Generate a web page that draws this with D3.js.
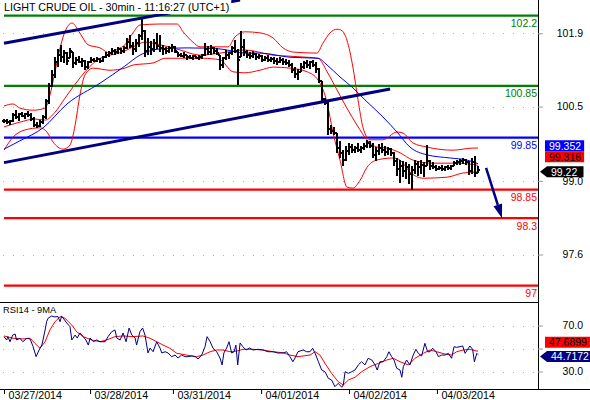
<!DOCTYPE html>
<html>
<head>
<meta charset="utf-8">
<script src="https://cdn.jsdelivr.net/npm/d3@7"></script>
<style>
  body { margin: 0; background: #fff; }
  svg { display: block; }
  text { font-family: "Liberation Sans", Arial, sans-serif; }
</style>
</head>
<body>
<svg id="chart" width="590" height="400"></svg>
<script>
// ---- price bars (30 min) ----
const barHigh = [
  100.22,100.21,100.20,100.33,100.38,100.32,100.35,100.33,100.36,100.33,
  100.24,100.15,100.20,100.28,100.60,100.90,101.15,101.40,101.55,101.64,
  101.54,101.50,101.58,101.50,101.40,101.42,101.38,101.35,101.33,101.40,
  101.38,101.40,101.38,101.42,101.50,101.52,101.58,101.56,101.60,101.58,
  101.62,101.78,101.83,101.70,101.75,101.85,102.14,101.92,101.77,101.72,
  101.75,101.87,101.82,101.64,101.60,101.62,101.65,101.62,101.50,101.48,
  101.50,101.45,101.44,101.45,101.43,101.45,101.46,101.68,101.62,101.64,
  101.60,101.58,101.45,101.40,101.54,101.50,101.62,101.73,101.55,101.90,
  101.75,101.54,101.50,101.52,101.48,101.46,101.44,101.42,101.44,101.40,
  101.40,101.38,101.40,101.38,101.36,101.35,101.28,101.22,101.18,101.28,
  101.33,101.35,101.32,101.35,101.30,101.20,100.95,100.62,100.55,100.10,
  100.05,99.95,99.78,99.62,99.70,99.75,99.72,99.70,99.74,99.70,
  99.75,99.80,99.78,99.74,99.68,99.72,99.75,99.70,99.68,99.66,
  99.58,99.45,99.42,99.40,99.38,99.35,99.30,99.42,99.40,99.42,
  99.38,99.71,99.42,99.38,99.32,99.30,99.32,99.30,99.32,99.33,
  99.40,99.42,99.44,99.45,99.44,99.40,99.45,99.50,99.30
];
const barLow = [
  100.13,100.12,100.10,100.15,100.22,100.18,100.24,100.22,100.25,100.18,
  100.06,100.04,100.05,100.12,100.22,100.50,100.82,101.00,101.22,101.30,
  101.28,101.25,101.38,101.20,101.25,101.28,101.22,101.15,101.18,101.28,
  101.30,101.30,101.29,101.30,101.38,101.40,101.45,101.44,101.46,101.47,
  101.48,101.55,101.58,101.45,101.50,101.60,101.73,101.40,101.45,101.45,
  101.50,101.55,101.50,101.45,101.47,101.48,101.50,101.48,101.40,101.40,
  101.38,101.35,101.36,101.35,101.36,101.35,101.37,101.42,101.45,101.45,
  101.46,101.44,101.15,101.20,101.35,101.36,101.44,101.48,100.87,101.40,
  101.42,101.38,101.36,101.38,101.35,101.36,101.30,101.32,101.30,101.30,
  101.27,101.26,101.28,101.25,101.26,101.22,101.10,101.00,100.96,101.12,
  101.18,101.20,101.18,101.22,101.10,100.90,100.55,100.48,99.90,99.92,
  99.90,99.55,99.45,99.30,99.40,99.52,99.56,99.55,99.58,99.56,
  99.62,99.66,99.65,99.45,99.40,99.52,99.55,99.50,99.52,99.50,
  99.30,99.12,98.98,99.10,99.05,98.95,98.85,99.15,99.12,99.15,
  99.10,99.30,99.22,99.24,99.20,99.22,99.21,99.20,99.22,99.22,
  99.30,99.32,99.33,99.34,99.32,99.13,99.15,99.10,99.18
];
const barClose = [
  100.18,100.15,100.18,100.28,100.25,100.30,100.27,100.31,100.28,100.21,
  100.10,100.08,100.16,100.25,100.55,100.85,101.05,101.30,101.45,101.40,
  101.48,101.32,101.52,101.28,101.35,101.30,101.33,101.22,101.30,101.35,
  101.33,101.36,101.32,101.40,101.45,101.48,101.52,101.50,101.55,101.52,
  101.58,101.70,101.62,101.55,101.68,101.80,101.90,101.52,101.60,101.55,
  101.68,101.62,101.58,101.55,101.52,101.58,101.60,101.52,101.45,101.42,
  101.44,101.40,101.38,101.42,101.39,101.41,101.44,101.55,101.50,101.58,
  101.52,101.48,101.25,101.38,101.45,101.48,101.58,101.52,101.35,101.60,
  101.50,101.45,101.42,101.46,101.40,101.42,101.35,101.38,101.34,101.36,
  101.32,101.30,101.35,101.30,101.28,101.25,101.15,101.08,101.12,101.22,
  101.28,101.25,101.30,101.26,101.18,100.95,100.60,100.52,100.02,99.98,
  99.95,99.65,99.55,99.42,99.60,99.68,99.62,99.65,99.62,99.66,
  99.70,99.74,99.70,99.52,99.60,99.65,99.62,99.58,99.64,99.55,
  99.40,99.25,99.30,99.20,99.28,99.15,99.22,99.35,99.28,99.32,
  99.30,99.40,99.30,99.28,99.25,99.27,99.24,99.28,99.26,99.30,
  99.36,99.38,99.40,99.42,99.38,99.20,99.38,99.18,99.22
];

// ---- indicators: [bar index, value] ----
const upperBand = [[0,100.46],[3,100.50],[5.3,100.42],[9.7,100.38],[13.7,100.42],[15.3,100.67],[17,101.12],[18.7,101.58],[20.3,101.89],[22.7,102.06],[24.7,101.92],[26.3,101.77],[28,101.64],[32,101.58],[35.3,101.48],[38,101.56],[40.3,101.64],[43,101.87],[45.3,102.02],[52,102.04],[57.7,102.04],[59.7,101.89],[63,101.69],[65.3,101.60],[74.7,101.60],[77,101.79],[80.3,101.89],[85.3,101.87],[89.7,101.77],[93,101.58],[96.3,101.50],[104.3,101.48],[106.3,101.67],[108.7,101.87],[111,101.94],[112.7,101.91],[114.3,101.73],[116.3,101.21],[118,100.58],[119.7,100.04],[122,99.81],[126.3,99.81],[131,99.96],[133,99.94],[136.3,99.75],[141,99.67],[149.7,99.61],[156.3,99.65],[158,99.65]];
const middleBand = [[0,100.06],[5.3,100.15],[10.3,100.21],[13.7,100.19],[17,100.34],[20.3,100.61],[23.7,100.88],[27,101.12],[30.3,101.31],[33.7,101.42],[37,101.46],[40.3,101.52],[43.7,101.62],[47,101.69],[52,101.64],[58.7,101.54],[65.3,101.44],[72,101.48],[80.3,101.54],[89.7,101.44],[95.3,101.42],[101,101.40],[104.7,101.38],[107.7,101.12],[111,100.77],[114.3,100.42],[117.7,100.09],[121,99.81],[124.3,99.67],[127.7,99.65],[132,99.56],[136.3,99.42],[143,99.36],[151,99.36],[158,99.32]];
const lowerBand = [[0,99.61],[3,99.86],[7,100.00],[12,100.04],[14.3,99.96],[16.3,99.77],[19.7,99.63],[22,99.71],[23.7,100.09],[25.3,100.67],[27,101.06],[29.7,101.19],[35.3,101.15],[40.3,101.19],[43,101.25],[49.7,101.29],[53.7,101.38],[60.3,101.38],[66.3,101.38],[72,101.35],[76.3,101.12],[80.3,101.10],[85.3,101.15],[89.7,101.21],[95.3,101.19],[101,101.12],[104.7,100.96],[107.7,100.52],[109.7,99.94],[112,99.42],[114.3,98.90],[116.3,98.88],[118.7,99.03],[121,99.28],[124.3,99.42],[129.7,99.46],[132,99.42],[135.3,99.19],[139.7,99.07],[147.7,99.09],[153,99.17],[158,99.19]];
const slowMA = [[0,99.63],[5.3,99.79],[13,100.04],[21,100.50],[32,100.90],[40.3,101.23],[45.3,101.44],[52,101.56],[61,101.58],[72,101.56],[80.3,101.48],[85.3,101.48],[95.3,101.40],[104.7,101.38],[107.7,101.25],[112,101.02],[116.3,100.81],[120.3,100.58],[126.3,100.25],[131,99.96],[135.3,99.67],[141,99.52],[148.7,99.46],[154.3,99.42],[158,99.35]];

const upperTrend = [[0, 101.67], [78.7, 102.50]];
const lowerTrend = [[0, 99.37], [128.7, 100.79]];
const targetArrow = [[160.7, 99.27], [166, 98.30]];

const levelValues = [102.2, 100.85, 99.85, 98.85, 98.3, 97];
const levelLabels = ["102.2", "100.85", "99.85", "98.85", "98.3", "97"];
const priceTicks = [101.86, 100.45, 99.02, 97.6];
const priceTickLabels = ["101.9", "100.5", "99.0", "97.6"];
const lastClose = 99.22, lastSlowMA = 99.352, lastMiddle = 99.316;

// ---- RSI panel ----
const rsiValues = [[0,60.3],[0.9,57.4],[1.3,60.3],[2,55.9],[2.9,61.7],[3.7,62.6],[4.2,57.4],[5.3,58.9],[6.3,55.9],[7.6,58.9],[8.7,58.3],[9.7,51.6],[10.7,42.9],[11.7,48.7],[12.6,53.0],[13,57.4],[13.7,66.1],[14.2,73.3],[14.7,76.3],[15.9,78.3],[16.7,77.5],[18,77.7],[18.7,73.3],[19.2,78.3],[20.9,72.2],[22,69.0],[22.6,57.4],[23.7,61.7],[24.4,59.1],[25.3,63.5],[26.4,60.3],[27.3,57.4],[28.1,53.0],[28.7,59.1],[29.8,55.9],[30.9,57.4],[32,55.9],[33.7,55.9],[34.7,60.3],[35.9,64.6],[37,66.1],[37.6,59.1],[38.7,57.4],[39.7,63.5],[40.7,55.9],[41.7,67.8],[42.6,61.7],[43.7,59.1],[44.2,53.0],[45.3,64.6],[46.2,67.8],[47,61.7],[48,46.1],[48.7,50.4],[49.7,47.2],[50.9,55.9],[52,50.4],[52.6,46.1],[53.7,47.2],[54.7,46.1],[55.9,42.9],[57,44.3],[58,41.7],[59.2,44.3],[60.3,42.9],[61.3,42.9],[62.6,43.5],[63.7,42.9],[64.7,40.9],[65.9,44.3],[67,51.6],[67.7,60.3],[68.7,55.9],[69.7,50.2],[70.9,47.2],[72,41.7],[72.7,35.7],[73.3,46.1],[74.2,50.4],[75,55.9],[75.9,46.1],[76.7,47.2],[77.3,53.0],[77.9,35.7],[78.7,54.8],[79.6,51.6],[80.7,48.7],[81.8,50.4],[83,48.7],[84.7,49.3],[86.3,48.7],[88,47.2],[89.7,47.2],[91.3,46.1],[93,46.1],[94.2,47.2],[95.3,42.9],[96.3,38.5],[97,41.7],[98,47.2],[99.7,48.7],[100.9,47.2],[102,47.2],[102.9,50.2],[103.7,45.8],[104.8,38.5],[105.9,31.3],[107,29.8],[108.1,24.1],[109.2,22.6],[110.3,16.8],[111.4,19.7],[112.6,16.3],[113.1,18.3],[113.7,29.8],[114.8,28.4],[115.9,29.8],[117,31.3],[118.1,35.7],[119.2,38.5],[120.3,35.7],[121.4,41.5],[122.6,40.0],[123.7,35.7],[124.4,31.3],[125.3,38.5],[126.4,38.5],[127.6,42.9],[128.3,47.2],[129.2,42.9],[130,40.0],[130.9,32.8],[132,31.3],[132.6,25.0],[133.1,34.2],[134.2,40.0],[135.3,35.7],[136.4,44.3],[137.3,49.3],[138.1,45.8],[139.2,43.5],[140.3,54.5],[141.2,47.2],[142,47.2],[142.9,50.2],[144,47.2],[144.8,42.9],[145.9,44.3],[147,44.3],[148.1,45.8],[149.2,41.5],[150,51.6],[150.9,51.0],[152,51.6],[152.9,52.2],[153.7,45.8],[154.4,48.7],[155.3,52.2],[156.2,49.3],[156.8,38.5],[157.6,45.8],[158,44.7]];
const rsiMA = [[0,60.9],[3,58.9],[6.3,58.3],[8.7,58.9],[10.3,54.5],[12,50.2],[13.7,55.9],[15.3,66.1],[17,73.3],[18.7,77.7],[20.3,76.3],[22.6,70.4],[24.2,64.6],[26.4,60.3],[29.2,57.4],[32,55.9],[34.2,57.4],[37,60.3],[39.7,60.9],[43,60.3],[46.3,60.9],[48.7,58.9],[50.9,55.9],[53,53.0],[55.3,50.2],[57.6,45.8],[60.9,44.3],[64.2,42.9],[66.3,44.3],[68.7,47.2],[70.9,48.7],[73,48.7],[75.3,47.2],[77.6,47.8],[79.7,49.3],[83,49.3],[86.3,48.7],[89.7,47.2],[93,46.3],[95.3,44.3],[98,42.9],[102,44.3],[103.7,47.2],[105.3,44.3],[107,37.1],[109.2,28.4],[111.4,21.1],[113.1,18.3],[114.8,22.6],[117,25.0],[119.2,29.8],[122,34.2],[124.8,37.1],[127.6,40.0],[129.8,41.5],[132,38.5],[134.8,35.7],[137,41.5],[139.8,45.8],[142,48.7],[144.2,47.2],[147,45.2],[149.2,44.3],[150.9,47.2],[153.1,48.7],[155.3,49.3],[157,48.1],[158,47.7]];
const rsiTicks = [70, 50, 30];
const rsiTickLabels = ["70.0", "", "30.0"];
const lastRsi = 44.7172, lastRsiMA = 47.6899;

const dayStarts = [0, 28.7, 56.3, 85.7, 115, 144.3];
const dayLabels = ["03/27/2014", "03/28/2014", "03/31/2014", "04/01/2014", "04/02/2014", "04/03/2014"];

// ---- layout ----
const plotLeft = 3, plotRight = 538, rsiTop = 302, rsiBottom = 389;
const levelColors = ["#008000", "#008000", "#0000ff", "#ff0000", "#ff0000", "#ff0000"];
const fontSize = 10.5;

const x = d3.scaleLinear().domain([0, 158]).range([4, 478]);
const y = d3.scaleLinear().domain([97, 102.2]).range([285.7, 15.7]);
const yR = d3.scaleLinear().domain([30, 70]).range([371.5, 325.5]);

const svg = d3.select('svg#chart');

// dotted grid
svg.append("g")
    .attr("stroke", "#b0b0b0")
    .attr("stroke-dasharray", "1,9")
  .selectAll("line")
  .data(priceTicks.map(y).concat(rsiTicks.map(yR)))
  .join("line")
    .attr("x1", plotLeft)
    .attr("x2", plotRight)
    .attr("y1", d => Math.round(d) + 0.5)
    .attr("y2", d => Math.round(d) + 0.5);

// support / resistance levels
svg.append("g")
    .attr("stroke-width", 2.2)
  .selectAll("line")
  .data(levelValues)
  .join("line")
    .attr("x1", 4)
    .attr("x2", plotRight)
    .attr("y1", d => y(d))
    .attr("y2", d => y(d))
    .attr("stroke", (d, i) => levelColors[i]);

svg.append("g")
    .attr("font-size", fontSize)
    .attr("text-anchor", "end")
  .selectAll("text")
  .data(levelValues)
  .join("text")
    .attr("x", plotRight - 1)
    .attr("y", d => y(d) + 11.3)
    .attr("fill", (d, i) => levelColors[i])
    .text((d, i) => levelLabels[i]);

// bands and moving average
const bandLine = d3.line()
    .x(d => x(d[0]))
    .y(d => y(d[1]))
    .curve(d3.curveMonotoneX);

svg.append("g")
    .attr("fill", "none")
    .attr("stroke-width", 1)
  .selectAll("path")
  .data([upperBand, middleBand, lowerBand, slowMA])
  .join("path")
    .attr("stroke", (d, i) => i === 3 ? "#0000ff" : "#ff0000")
    .attr("d", bandLine);

// OHLC bars
const bars = barClose.map((c, i) => ({
  i, h: barHigh[i], l: barLow[i], c,
  o: i ? Math.min(barHigh[i], Math.max(barLow[i], barClose[i - 1])) : c
}));

svg.append("g")
    .attr("stroke", "#000")
    .attr("stroke-width", 2)
    .attr("shape-rendering", "crispEdges")
    .attr("fill", "none")
  .selectAll("path")
  .data(bars)
  .join("path")
    .attr("d", d => `M${x(d.i)},${y(d.h)}V${y(d.l)}M${x(d.i) - 2},${y(d.o)}H${x(d.i)}M${x(d.i)},${y(d.c)}H${x(d.i) + 2}`);

// trend lines
const straight = d3.line().x(d => x(d[0])).y(d => y(d[1]));
svg.append("g")
    .attr("fill", "none")
    .attr("stroke", "#000080")
    .attr("stroke-width", 3)
  .selectAll("path")
  .data([upperTrend, lowerTrend])
  .join("path")
    .attr("d", straight);

// target arrow
const [a0, a1] = targetArrow.map(d => [x(d[0]), y(d[1])]);
const ang = Math.atan2(a1[1] - a0[1], a1[0] - a0[0]);
const headLen = 14, headHalf = 4.5;
const base = [a1[0] - headLen * Math.cos(ang), a1[1] - headLen * Math.sin(ang)];
svg.append("line")
    .attr("x1", a0[0]).attr("y1", a0[1])
    .attr("x2", base[0]).attr("y2", base[1])
    .attr("stroke", "#000080")
    .attr("stroke-width", 2.5);
svg.append("path")
    .attr("fill", "#000080")
    .attr("d", d3.line()([
      a1,
      [base[0] - headHalf * Math.sin(ang), base[1] + headHalf * Math.cos(ang)],
      [base[0] + headHalf * Math.sin(ang), base[1] - headHalf * Math.cos(ang)]
    ]) + "Z");

// RSI lines
const rsiLine = d3.line().x(d => x(d[0])).y(d => yR(d[1]));
svg.append("g")
    .attr("fill", "none")
    .attr("stroke-width", 1)
  .selectAll("path")
  .data([rsiMA, rsiValues])
  .join("path")
    .attr("stroke", (d, i) => i ? "#000080" : "#ff0000")
    .attr("d", rsiLine);

svg.append("text")
    .attr("x", 3)
    .attr("y", 313.3)
    .attr("font-size", 9.3)
    .text("RSI14 - 9MA");

// frame
svg.append("g")
    .attr("stroke", "#000")
    .attr("shape-rendering", "crispEdges")
  .call(g => {
    g.append("line").attr("x1", plotRight + 0.5).attr("x2", plotRight + 0.5).attr("y1", 0).attr("y2", rsiBottom);
    g.append("line").attr("x1", 0).attr("x2", plotRight).attr("y1", rsiTop + 0.5).attr("y2", rsiTop + 0.5);
    g.append("line").attr("x1", 0).attr("x2", 590).attr("y1", rsiBottom + 0.5).attr("y2", rsiBottom + 0.5);
  });

// right axes
function rightAxis(scale, values, labels) {
  const g = svg.append("g")
      .attr("transform", `translate(${plotRight},0)`)
      .call(d3.axisRight(scale).tickValues(values).tickFormat((d, i) => labels[i]).tickSize(5));
  g.select(".domain").remove();
  g.attr("font-family", null).attr("font-size", fontSize);
  g.selectAll(".tick line").attr("stroke", "#999");
  g.selectAll(".tick text").attr("x", 45).attr("text-anchor", "end").attr("fill", "#000");
}
rightAxis(y, priceTicks, priceTickLabels);
rightAxis(yR, rsiTicks, rsiTickLabels);

// date axis
const xa = svg.append("g")
    .attr("transform", `translate(0,${rsiBottom})`)
    .call(d3.axisBottom(x).tickValues(dayStarts).tickFormat((d, i) => dayLabels[i]).tickSize(5));
xa.select(".domain").remove();
xa.attr("font-family", null).attr("font-size", 10.7);
xa.selectAll(".tick line").attr("stroke", "#000");
xa.selectAll(".tick text").attr("x", 4).attr("y", 2.5).attr("text-anchor", "start").attr("fill", "#000");

// value boxes on the right
function valueBox(cy, label, fill, textColor, pointer) {
  const g = svg.append("g");
  const t = g.append("text")
      .attr("font-size", fontSize)
      .attr("fill", textColor)
      .attr("y", cy)
      .attr("dy", "0.36em")
      .text(label);
  const w = t.node().getComputedTextLength();
  const left = pointer ? 547 : 545;
  const h = 11;
  t.attr("x", left + 4);
  const right = Math.max(583.5, left + w + 7);
  const pts = pointer
    ? [[540, cy], [left, cy - h / 2], [right, cy - h / 2], [right, cy + h / 2], [left, cy + h / 2]]
    : [[left, cy - h / 2], [right, cy - h / 2], [right, cy + h / 2], [left, cy + h / 2]];
  g.insert("path", "text").attr("fill", fill).attr("d", d3.line()(pts) + "Z");
  return cy - h / 2;
}
const closeTop = valueBox(y(lastClose) + 1.3, String(lastClose), "#000", "#fff", true);
const middleTop = valueBox(closeTop - 4 - 5.5, String(lastMiddle), "#ff0000", "#000", false);
valueBox(middleTop - 5.5, String(lastSlowMA), "#0000ff", "#fff", false);

const rsiTop2 = valueBox(yR(lastRsi) + 2, String(lastRsi), "#000080", "#fff", true);
valueBox(rsiTop2 - 3.4 - 5.5, String(lastRsiMA), "#ff0000", "#000", false);

// title
const title = svg.append("text")
    .attr("x", 4)
    .attr("y", 10.7)
    .attr("font-size", 10.7)
    .text("LIGHT CRUDE OIL - 30min - 11:16:27 (UTC+1)");
const tb = title.node().getBBox();
svg.insert("rect", () => title.node())
    .attr("x", 0)
    .attr("y", 0)
    .attr("width", tb.x + tb.width + 2)
    .attr("height", 14)
    .attr("fill", "#fff");
</script>
</body>
</html>
